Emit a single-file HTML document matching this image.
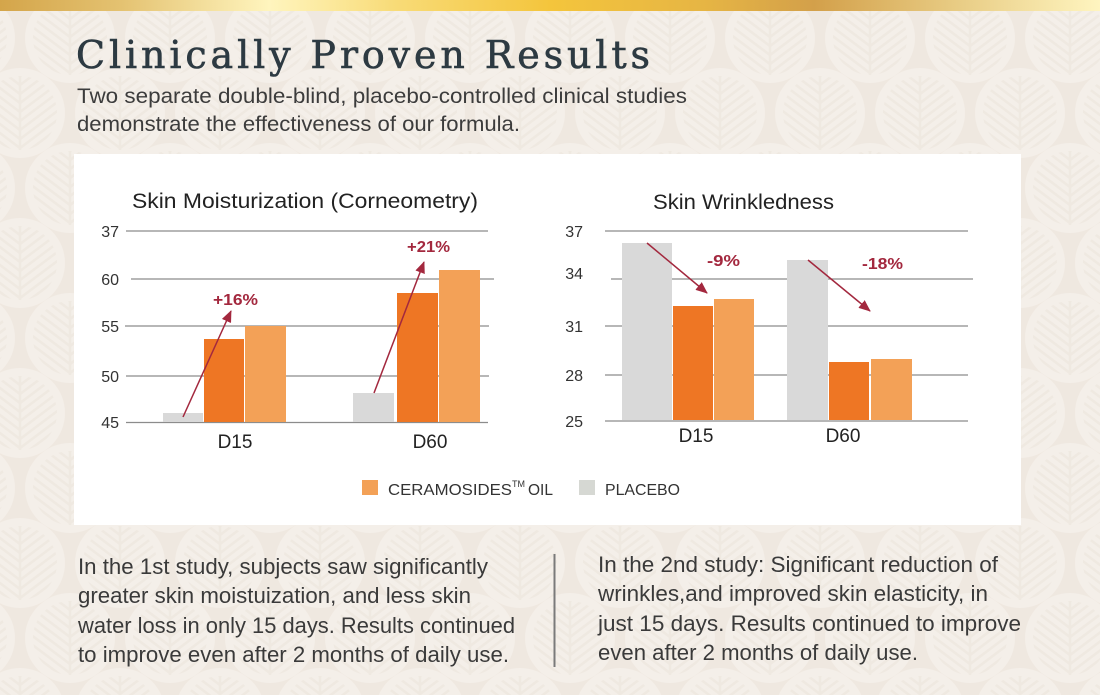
<!DOCTYPE html>
<html>
<head>
<meta charset="utf-8">
<style>
html,body{margin:0;padding:0;background:#efe8e0;}
svg{display:block;}
text{font-family:"Liberation Sans",sans-serif;}
</style>
</head>
<body>
<svg width="1100" height="695" viewBox="0 0 1100 695" xmlns="http://www.w3.org/2000/svg">
<defs>
  <linearGradient id="gold" x1="0" y1="0" x2="1100" y2="0" gradientUnits="userSpaceOnUse">
    <stop offset="0" stop-color="#d4a54a"/>
    <stop offset="0.11" stop-color="#e4c271"/>
    <stop offset="0.245" stop-color="#fff5be"/>
    <stop offset="0.36" stop-color="#f8db77"/>
    <stop offset="0.5" stop-color="#f4c53c"/>
    <stop offset="0.64" stop-color="#e6b544"/>
    <stop offset="0.74" stop-color="#d3a04a"/>
    <stop offset="0.87" stop-color="#e8cc84"/>
    <stop offset="1" stop-color="#fff5c0"/>
  </linearGradient>
  <clipPath id="lc"><circle cx="0" cy="0" r="37"/></clipPath>
  <g id="leaf">
    <circle cx="0" cy="0" r="45" fill="#f4efe9"/>
    <g clip-path="url(#lc)" stroke="#efe9e1" stroke-width="2.5" fill="none">
      <path d="M0,-40V40"/>
      <path d="M-40,-76L0,-46L40,-76M-40,-67L0,-37L40,-67M-40,-58L0,-28L40,-58M-40,-49L0,-19L40,-49M-40,-40L0,-10L40,-40M-40,-31L0,-1L40,-31M-40,-22L0,8L40,-22M-40,-13L0,17L40,-13M-40,-4L0,26L40,-4M-40,5L0,35L40,5M-40,14L0,44L40,14M-40,23L0,53L40,23"/>
    </g>
  </g>
  <pattern id="bgp" patternUnits="userSpaceOnUse" width="100" height="150" x="20" y="-37">
    <use href="#leaf" x="50" y="75"/>
    <use href="#leaf" x="0" y="0"/>
    <use href="#leaf" x="100" y="0"/>
    <use href="#leaf" x="0" y="150"/>
    <use href="#leaf" x="100" y="150"/>
  </pattern>
  <marker id="ah" markerUnits="userSpaceOnUse" markerWidth="12" markerHeight="10" refX="11" refY="5" orient="auto">
    <path d="M0,0L12,5L0,10z" fill="#a3283e"/>
  </marker>
</defs>

<!-- background -->
<rect x="0" y="0" width="1100" height="695" fill="#efe8e0"/>
<rect x="0" y="0" width="1100" height="695" fill="url(#bgp)"/>
<rect x="0" y="0" width="1100" height="11" fill="url(#gold)"/>

<!-- header -->
<text x="76" y="68" font-size="38" fill="#2d3a42" stroke="#2d3a42" stroke-width="0.6" textLength="574" lengthAdjust="spacing" style="font-family:'DejaVu Serif',serif">Clinically Proven Results</text>
<text x="77" y="103" font-size="21" fill="#3c3c3c" textLength="610" lengthAdjust="spacingAndGlyphs">Two separate double-blind, placebo-controlled clinical studies</text>
<text x="77" y="131" font-size="21" fill="#3c3c3c" textLength="443" lengthAdjust="spacingAndGlyphs">demonstrate the effectiveness of our formula.</text>

<!-- white panel -->
<rect x="74" y="154" width="947" height="371" fill="#ffffff"/>

<!-- LEFT CHART -->
<text x="132" y="208" font-size="21" fill="#222" textLength="346" lengthAdjust="spacingAndGlyphs">Skin Moisturization (Corneometry)</text>
<g stroke="#8c8c8c" stroke-width="1.3">
  <line x1="126" y1="231" x2="488" y2="231"/>
  <line x1="131" y1="279" x2="494" y2="279"/>
  <line x1="125" y1="326" x2="489" y2="326"/>
  <line x1="126" y1="376" x2="489" y2="376"/>
  <line x1="126" y1="422.5" x2="488" y2="422.5"/>
</g>
<g font-size="16" fill="#333" text-anchor="end">
  <text x="119" y="237">37</text>
  <text x="119" y="285">60</text>
  <text x="119" y="332">55</text>
  <text x="119" y="382">50</text>
  <text x="119" y="428">45</text>
</g>
<rect x="163" y="413" width="40" height="9" fill="#d9d9d9"/>
<rect x="204" y="339" width="40" height="83" fill="#ee7624"/>
<rect x="245" y="326" width="41" height="96" fill="#f3a157"/>
<rect x="353" y="393" width="41" height="29" fill="#d9d9d9"/>
<rect x="397" y="293" width="41" height="129" fill="#ee7624"/>
<rect x="439" y="270" width="41" height="152" fill="#f3a157"/>
<line x1="183" y1="417" x2="231" y2="311" stroke="#a3283e" stroke-width="1.5" marker-end="url(#ah)"/>
<line x1="374" y1="393" x2="424" y2="262" stroke="#a3283e" stroke-width="1.5" marker-end="url(#ah)"/>
<text x="213" y="305" font-size="16" font-weight="bold" fill="#a3283e" textLength="45" lengthAdjust="spacingAndGlyphs">+16%</text>
<text x="407" y="252" font-size="16" font-weight="bold" fill="#a3283e" textLength="43" lengthAdjust="spacingAndGlyphs">+21%</text>
<text x="235" y="448" font-size="19" fill="#222" text-anchor="middle">D15</text>
<text x="430" y="448" font-size="19" fill="#222" text-anchor="middle">D60</text>

<!-- RIGHT CHART -->
<text x="653" y="209" font-size="21" fill="#222" textLength="181" lengthAdjust="spacingAndGlyphs">Skin Wrinkledness</text>
<g stroke="#8c8c8c" stroke-width="1.3">
  <line x1="605" y1="231" x2="968" y2="231"/>
  <line x1="611" y1="279" x2="973" y2="279"/>
  <line x1="605" y1="326" x2="968" y2="326"/>
  <line x1="605" y1="375" x2="968" y2="375"/>
  <line x1="605" y1="421" x2="968" y2="421"/>
</g>
<g font-size="16" fill="#333" text-anchor="end">
  <text x="583" y="237">37</text>
  <text x="583" y="279">34</text>
  <text x="583" y="332">31</text>
  <text x="583" y="381">28</text>
  <text x="583" y="427">25</text>
</g>
<rect x="622" y="243" width="50" height="177" fill="#d9d9d9"/>
<rect x="673" y="306" width="40" height="114" fill="#ee7624"/>
<rect x="714" y="299" width="40" height="121" fill="#f3a157"/>
<rect x="787" y="260" width="41" height="160" fill="#d9d9d9"/>
<rect x="829" y="362" width="40" height="58" fill="#ee7624"/>
<rect x="871" y="359" width="41" height="61" fill="#f3a157"/>
<line x1="647" y1="243" x2="707" y2="293" stroke="#a3283e" stroke-width="1.5" marker-end="url(#ah)"/>
<line x1="808" y1="260" x2="870" y2="311" stroke="#a3283e" stroke-width="1.5" marker-end="url(#ah)"/>
<text x="707" y="266" font-size="16" font-weight="bold" fill="#a3283e" textLength="33" lengthAdjust="spacingAndGlyphs">-9%</text>
<text x="862" y="269" font-size="16" font-weight="bold" fill="#a3283e" textLength="41" lengthAdjust="spacingAndGlyphs">-18%</text>
<text x="696" y="442" font-size="19" fill="#222" text-anchor="middle">D15</text>
<text x="843" y="442" font-size="19" fill="#222" text-anchor="middle">D60</text>

<!-- legend -->
<rect x="362" y="480" width="16" height="15" fill="#f3a157"/>
<text x="388" y="495" font-size="16" fill="#333" textLength="124" lengthAdjust="spacingAndGlyphs">CERAMOSIDES</text>
<text x="512" y="487" font-size="9" fill="#333">TM</text>
<text x="528" y="495" font-size="16" fill="#333" textLength="25" lengthAdjust="spacingAndGlyphs">OIL</text>
<rect x="579" y="480" width="16" height="15" fill="#d6d8d3"/>
<text x="605" y="495" font-size="16" fill="#333" textLength="75" lengthAdjust="spacingAndGlyphs">PLACEBO</text>

<!-- bottom text -->
<g font-size="22" fill="#3a3a3a">
  <text x="78" y="574" textLength="410" lengthAdjust="spacingAndGlyphs">In the 1st study, subjects saw significantly</text>
  <text x="78" y="603" textLength="393" lengthAdjust="spacingAndGlyphs">greater skin moistuization, and less skin</text>
  <text x="78" y="633" textLength="437" lengthAdjust="spacingAndGlyphs">water loss in only 15 days. Results continued</text>
  <text x="78" y="662" textLength="431" lengthAdjust="spacingAndGlyphs">to improve even after 2 months of daily use.</text>
  <text x="598" y="572" textLength="400" lengthAdjust="spacingAndGlyphs">In the 2nd study: Significant reduction of</text>
  <text x="598" y="601" textLength="390" lengthAdjust="spacingAndGlyphs">wrinkles,and improved skin elasticity, in</text>
  <text x="598" y="631" textLength="423" lengthAdjust="spacingAndGlyphs">just 15 days. Results continued to improve</text>
  <text x="598" y="660" textLength="320" lengthAdjust="spacingAndGlyphs">even after 2 months of daily use.</text>
</g>
<line x1="554.5" y1="554" x2="554.5" y2="667" stroke="#7a7a7a" stroke-width="2"/>
</svg>
</body>
</html>
